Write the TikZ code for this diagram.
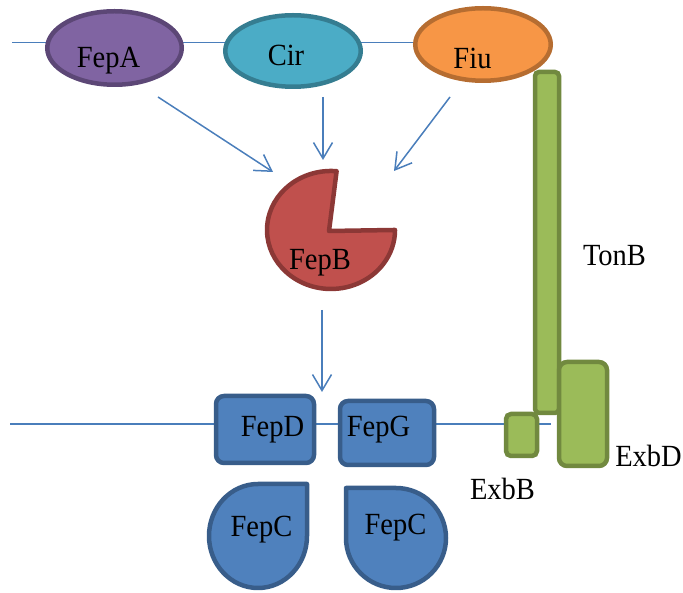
\documentclass[tikz,border=0pt]{standalone}
\usepackage{fontspec}
\setmainfont{Liberation Serif}
\usetikzlibrary{arrows.meta,shapes.geometric}
\definecolor{linkblue}{HTML}{4A7EBB}
\definecolor{purfill}{HTML}{8064A2}\definecolor{purdraw}{HTML}{5C4776}
\definecolor{cyfill}{HTML}{4BACC6}\definecolor{cydraw}{HTML}{357D91}
\definecolor{orfill}{HTML}{F79646}\definecolor{ordraw}{HTML}{B66D31}
\definecolor{redfill}{HTML}{C0504D}\definecolor{reddraw}{HTML}{8C3836}
\definecolor{bluefill}{HTML}{4F81BD}\definecolor{bluedraw}{HTML}{385D8A}
\definecolor{grfill}{HTML}{9BBB59}\definecolor{grdraw}{HTML}{71893F}
\newcommand{\tallt}[1]{\scalebox{1}[1.08]{#1}}
\begin{document}
\begin{tikzpicture}[x=1pt,y=1pt,
  membrane/.style={draw=linkblue,line width=1.4pt},
  flow/.style={draw=linkblue,line width=1.5pt,-{Straight Barb[length=16pt,width=19pt,line width=1.5pt]}},
  protein/.style={ellipse,inner sep=0pt,line width=4.5pt},
  bw/.style={line width=4.5pt},
  lbl/.style={font=\fontsize{28.5}{30}\selectfont,inner sep=0pt,anchor=base}]
\useasboundingbox (0,0) rectangle (683,592);
% membranes
\coordinate (mt1) at (12,549.5);
\coordinate (mt2) at (415,549.5);
\draw[membrane] (mt1) -- (mt2);
\coordinate (mb1) at (10,168);
\coordinate (mb2) at (551,168);
\draw[membrane] (mb1) -- (mb2);
% outer membrane proteins
\node[protein,draw=purdraw,fill=purfill,minimum width=134.5pt,minimum height=73.5pt] (fepa) at (114.5,544) {};
\node[protein,draw=cydraw,fill=cyfill,minimum width=135.5pt,minimum height=71.5pt] (cir) at (293,541) {};
\node[protein,draw=ordraw,fill=orfill,minimum width=135.5pt,minimum height=72.5pt] (fiu) at (483,547.5) {};
\node[lbl] (tfepa) at (108.5,524) {\tallt{FepA}};
\node[lbl] (tcir) at (286,526) {\tallt{Cir}};
\node[lbl] (tfiu) at (472.5,523) {\tallt{Fiu}};
% FepB
\draw[bw,draw=reddraw,fill=redfill,line join=round] (329,361) -- (336.6,420.8) arc[start angle=85,end angle=360,x radius=64,y radius=59] -- cycle;
\node[lbl] (tfepb) at (320,322) {\tallt{FepB}};
% arrows
\coordinate (s1) at (158,495); \coordinate (e1) at (273,420);
\coordinate (s2) at (323,495); \coordinate (e2) at (323,432);
\coordinate (s3) at (450,495); \coordinate (e3) at (394,421);
\coordinate (s4) at (322,282); \coordinate (e4) at (322,200);
\draw[flow] (s1) -- (e1);
\draw[flow] (s2) -- (e2);
\draw[flow] (s3) -- (e3);
\draw[flow] (s4) -- (e4);
% TonB / ExbB / ExbD
\draw[bw,draw=grdraw,fill=grfill,rounded corners=5pt] (506,136) rectangle (537,178);
\draw[bw,draw=grdraw,fill=grfill,rounded corners=4pt] (535,179) rectangle (559,520);
\draw[bw,draw=grdraw,fill=grfill,rounded corners=8pt] (559,126) rectangle (607,230);
\node[lbl] (ttonb) at (614.5,326) {\tallt{TonB}};
\node[lbl] (texbd) at (648.5,125) {\tallt{ExbD}};
\node[lbl] (texbb) at (502.5,92) {\tallt{ExbB}};
% FepD / FepG
\draw[bw,draw=bluedraw,fill=bluefill,rounded corners=8pt] (216,129) rectangle (314,196);
\draw[bw,draw=bluedraw,fill=bluefill,rounded corners=8pt] (340,127) rectangle (434,191);
\node[lbl] (tfepd) at (272.5,155) {\tallt{FepD}};
\node[lbl] (tfepg) at (378.5,155) {\tallt{FepG}};
% FepC teardrops
\draw[bw,draw=bluedraw,fill=bluefill,line join=round] (307,108) -- (307,56) arc[start angle=0,end angle=-270,x radius=49,y radius=52] -- cycle;
\draw[bw,draw=bluedraw,fill=bluefill,line join=round] (346,104) -- (346,54) arc[start angle=180,end angle=450,x radius=50,y radius=50] -- cycle;
\node[lbl] (tfepc1) at (261.5,55) {\tallt{FepC}};
\node[lbl] (tfepc2) at (395.5,57) {\tallt{FepC}};
\end{tikzpicture}
\end{document}
